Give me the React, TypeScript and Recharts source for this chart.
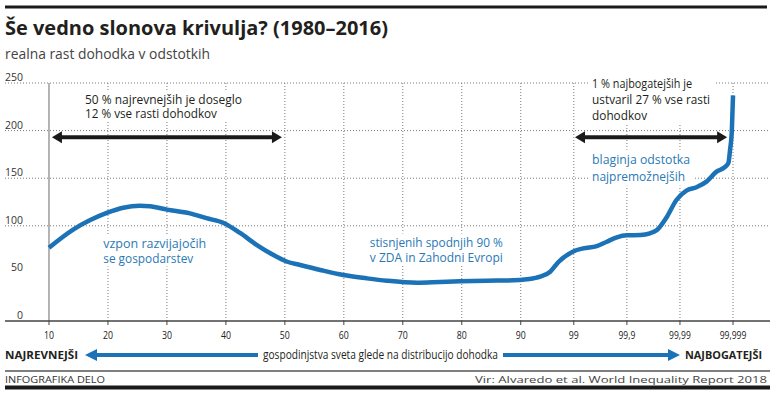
import {
  LineChart,
  Line,
  XAxis,
  YAxis,
  ReferenceLine,
  ReferenceDot,
} from "recharts";

const SANS = "'Open Sans', 'Noto Sans', Roboto, sans-serif";
const DARK = "#231f20";
const BLUE = "#2a79b5";
const LINE_BLUE = "#1b72b6";

// rank on the horizontal axis: 10..90 evenly spaced, the top groups squeezed
const tickRanks = [1, 2, 3, 4, 5, 6, 7, 8, 9, 9.9, 10.8, 11.7, 12.6];
const tickLabels = [
  "10",
  "20",
  "30",
  "40",
  "50",
  "60",
  "70",
  "80",
  "90",
  "99",
  "99,9",
  "99,99",
  "99,999",
];
const yTicks = [0, 50, 100, 150, 200, 250];
const gridValues = [100, 150, 200, 250];

const curveRank = [
  1, 1.41, 1.7, 1.98, 2.26, 2.54, 2.71, 3.0, 3.39, 3.67, 3.96, 4.24, 4.52, 4.8,
  5.03, 5.26, 5.6, 5.99, 6.39, 6.73, 7.24, 7.63, 7.97, 8.42, 8.87, 9.1, 9.33,
  9.5, 9.64, 9.89, 10.06, 10.29, 10.46, 10.63, 10.8, 11.03, 11.19, 11.31, 11.48,
  11.64, 11.81, 11.98, 12.15, 12.32, 12.46, 12.52, 12.55, 12.58, 12.6,
];
const curveGrowth = [
  77, 96, 106, 113.5, 119, 121, 120.5, 117, 113, 108, 103, 92.5, 80, 69.5, 62.5,
  58.8, 53.6, 48.3, 44.8, 42.3, 40.2, 41, 41.7, 42.3, 42.7, 43.8, 46.5, 51.8,
  62, 73, 76.3, 78.7, 83.3, 87.9, 90, 90.3, 92.1, 95.6, 109.6, 127.1, 136.9,
  140.5, 146.4, 156.9, 161.6, 165.8, 180, 200, 237,
];

const arrows = [
  { from: 1.05, to: 4.95, growth: 193 },
  { from: 9.92, to: 12.5, growth: 193 },
];

const notes = [
  {
    rank: 1.61,
    growth: 233,
    lines: ["50 % najrevnejših je doseglo", "12 % vse rasti dohodkov"],
    widths: [157, 132],
    color: DARK,
    size: 13,
    gap: 14.5,
  },
  {
    rank: 10.21,
    growth: 250,
    lines: ["1 % najbogatejših je", "ustvaril 27 % vse rasti", "dohodkov"],
    widths: [100, 118, 55],
    color: DARK,
    size: 13,
    gap: 16,
  },
  {
    rank: 10.21,
    growth: 170,
    lines: ["blaginja odstotka", "najpremožnejših"],
    widths: [98, 93],
    color: BLUE,
    size: 13,
    gap: 17,
  },
  {
    rank: 1.92,
    growth: 82,
    lines: ["vzpon razvijajočih", "se gospodarstev"],
    widths: [103, 90],
    color: BLUE,
    size: 13,
    gap: 15,
  },
  {
    rank: 6.44,
    growth: 83,
    lines: ["stisnjenih spodnjih 90 %", "v ZDA in Zahodni Evropi"],
    widths: [133, 133],
    color: BLUE,
    size: 13,
    gap: 15,
  },
];

const data = curveRank.map((rank, i) => ({ rank, growth: curveGrowth[i] }));

// the print font is condensed: squeeze digits to its width
const labelWidth = (s: string, digit: number) =>
  [...s].reduce((w, c) => w + (c === "," ? 1.8 : digit), 0);

const XTick = (props: any) => {
  const { x, y, payload } = props;
  const label = tickLabels[tickRanks.indexOf(payload.value)];
  return (
    <text
      x={x}
      y={y}
      dy="0.71em"
      fontSize={11.5}
      fill="#222"
      fontFamily={SANS}
      textAnchor="middle"
      textLength={labelWidth(label, 5)}
      lengthAdjust="spacingAndGlyphs"
    >
      {label}
    </text>
  );
};

const YTick = (props: any) => {
  const { x, y, payload } = props;
  const label = String(payload.value);
  return (
    <text
      x={x + 18}
      y={y - 2}
      fontSize={11.5}
      fill="#333"
      fontFamily={SANS}
      textAnchor="end"
      textLength={labelWidth(label, 6)}
      lengthAdjust="spacingAndGlyphs"
    >
      {label}
    </text>
  );
};

const DoubleArrow = (props: any) => {
  const { x1, y1, x2 } = props;
  const head = 10;
  const half = 6;
  return (
    <g>
      <line
        x1={x1 + head - 1}
        y1={y1}
        x2={x2 - head + 1}
        y2={y1}
        stroke="#1a1a1a"
        strokeWidth={4}
      />
      <polygon
        points={`${x1},${y1} ${x1 + head},${y1 - half} ${x1 + head},${y1 + half}`}
        fill="#1a1a1a"
      />
      <polygon
        points={`${x2},${y1} ${x2 - head},${y1 - half} ${x2 - head},${y1 + half}`}
        fill="#1a1a1a"
      />
    </g>
  );
};

const Note = (props: any) => {
  const { cx, cy, note } = props;
  const w = Math.max(...note.widths);
  return (
    <g>
      <rect
        x={cx - 4}
        y={cy - note.gap / 2 - 1}
        width={w + 8}
        height={note.lines.length * note.gap + 2}
        fill="#fff"
      />
      {note.lines.map((t: string, i: number) => (
        <text
          key={t}
          x={cx}
          y={cy + i * note.gap}
          dy="0.36em"
          fontSize={note.size}
          fill={note.color}
          fontFamily={SANS}
          textLength={note.widths[i]}
          lengthAdjust="spacingAndGlyphs"
        >
          {t}
        </text>
      ))}
    </g>
  );
};

export default function App() {
  return (
    <div
      style={{
        position: "absolute",
        left: 0,
        top: 0,
        width: 777,
        height: 397,
        background: "#fff",
        overflow: "hidden",
      }}
    >
      <div style={{ position: "absolute", left: 0, top: 0 }}>
        <LineChart
          width={777}
          height={397}
          data={data}
          margin={{ top: 83, right: 7, bottom: 46, left: 5 }}
        >
          {gridValues.map((v) => (
            <ReferenceLine
              key={"h" + v}
              y={v}
              stroke="#7a7a7a"
              strokeDasharray="1 2"
            />
          ))}
          {tickRanks.slice(1).map((r) => (
            <ReferenceLine
              key={"v" + r}
              x={r}
              stroke="#7a7a7a"
              strokeDasharray="1 2"
            />
          ))}
          <ReferenceLine x={tickRanks[0]} stroke="#6a6a6a" strokeWidth={1} />
          <XAxis
            dataKey="rank"
            type="number"
            domain={[0.254, 13.227]}
            allowDataOverflow
            ticks={tickRanks}
            interval={0}
            height={30}
            axisLine={{ stroke: "#444", strokeWidth: 1.5 }}
            tickLine={{ stroke: "#444" }}
            tickSize={4}
            tickMargin={6}
            tick={<XTick />}
          />
          <YAxis
            type="number"
            domain={[0, 250]}
            ticks={yTicks}
            interval={0}
            mirror
            width={30}
            axisLine={false}
            tickLine={false}
            tickSize={0}
            tickMargin={0}
            tick={<YTick />}
          />
          {arrows.map((a) => (
            <ReferenceLine
              key={"a" + a.from}
              segment={[
                { x: a.from, y: a.growth },
                { x: a.to, y: a.growth },
              ]}
              shape={(p: any) => <DoubleArrow {...p} />}
            />
          ))}
          {notes.map((n) => (
            <ReferenceDot
              key={n.lines[0]}
              x={n.rank}
              y={n.growth}
              r={0}
              ifOverflow="visible"
              shape={(p: any) => <Note {...p} note={n} />}
            />
          ))}
          <Line
            type="monotone"
            dataKey="growth"
            stroke={LINE_BLUE}
            strokeWidth={4.5}
            dot={false}
            isAnimationActive={false}
          />
        </LineChart>
      </div>
      <svg
        width={777}
        height={397}
        style={{ position: "absolute", left: 0, top: 0, pointerEvents: "none" }}
        fontFamily={SANS}
      >
        <rect x={5} y={5.5} width={762} height={3} fill="#1a1a1a" />
        <text
          x={5}
          y={35}
          fontSize={20}
          fontWeight={700}
          fill={DARK}
          textLength={383}
          lengthAdjust="spacingAndGlyphs"
        >
          Še vedno slonova krivulja? (1980–2016)
        </text>
        <text
          x={5}
          y={58.5}
          fontSize={14.5}
          fill="#444"
          textLength={205}
          lengthAdjust="spacingAndGlyphs"
        >
          realna rast dohodka v odstotkih
        </text>

        <text
          x={5}
          y={359}
          fontSize={10.5}
          fontWeight={700}
          fill={DARK}
          textLength={73}
          lengthAdjust="spacingAndGlyphs"
        >
          NAJREVNEJŠI
        </text>
        <line x1={95} y1={355} x2={258} y2={355} stroke={LINE_BLUE} strokeWidth={4} />
        <polygon points="85,355 97,349 97,361" fill={LINE_BLUE} />
        <text
          x={263}
          y={358.5}
          fontSize={12}
          fill={DARK}
          textLength={235}
          lengthAdjust="spacingAndGlyphs"
        >
          gospodinjstva sveta glede na distribucijo dohodka
        </text>
        <line x1={503} y1={355} x2={670} y2={355} stroke={LINE_BLUE} strokeWidth={4} />
        <polygon points="680,355 668,349 668,361" fill={LINE_BLUE} />
        <text
          x={685}
          y={359}
          fontSize={10.5}
          fontWeight={700}
          fill={DARK}
          textLength={77}
          lengthAdjust="spacingAndGlyphs"
        >
          NAJBOGATEJŠI
        </text>

        <line x1={5} y1={371} x2={770} y2={371} stroke="#555" strokeWidth={1.5} />
        <text
          x={5}
          y={382.5}
          fontSize={9.5}
          fill="#333"
          textLength={100}
          lengthAdjust="spacingAndGlyphs"
        >
          INFOGRAFIKA DELO
        </text>
        <text
          x={475}
          y={382.5}
          fontSize={9.5}
          fill="#444"
          textLength={292}
          lengthAdjust="spacingAndGlyphs"
        >
          Vir: Alvaredo et al. World Inequality Report 2018
        </text>
        <rect x={5} y={385.5} width={765} height={4} fill="#1a1a1a" />
      </svg>
    </div>
  );
}
